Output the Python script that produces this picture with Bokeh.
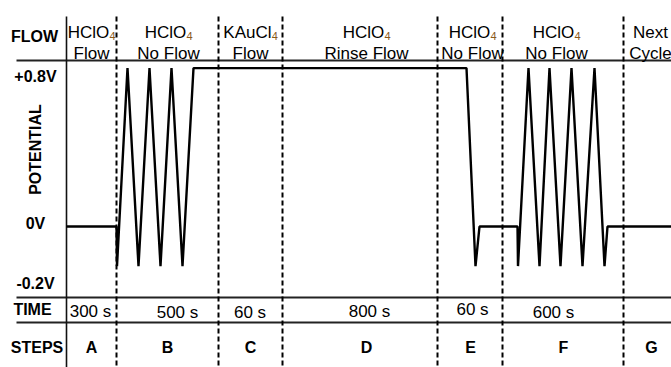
from math import pi

from bokeh.core.properties import value
from bokeh.embed import file_html
from bokeh.models import Range1d
from bokeh.plotting import figure
from bokeh.resources import INLINE

# ---- protocol data -------------------------------------------------------
steps = ["A", "B", "C", "D", "E", "F", "G"]
durations = ["300 s", "500 s", "60 s", "800 s", "60 s", "600 s"]
flow_species = ["HClO", "HClO", "KAuCl", "HClO", "HClO", "HClO", "Next"]
flow_subscript = ["4", "4", "4", "4", "4", "4", ""]
flow_mode = ["Flow", "No Flow", "Flow", "Rinse Flow", "No Flow", "No Flow", "Cycle"]

potential_ticks = [0.8, 0.0, -0.2]
potential_tick_labels = ["+0.8V", "0V", "-0.2V"]

# applied potential (V) along the schematic step axis
wave_pos = [66, 116, 116.5, 127, 138, 149, 160, 171, 182, 193,
            466, 475, 479, 517, 517.5, 528, 539, 549, 560, 571, 582, 594,
            604, 607, 671]
wave_v = [0.0, 0.0, -0.2, 0.8, -0.2, 0.8, -0.2, 0.8, -0.2, 0.8,
          0.8, -0.2, 0.0, 0.0, -0.2, 0.8, -0.2, 0.8, -0.2, 0.8, -0.2, 0.8,
          -0.2, 0.0, 0.0]

# ---- layout --------------------------------------------------------------
W, H = 671, 367
FONT = value("Liberation Sans")

label_col_edge = 66
step_edges = [116, 218, 282, 437, 502, 623]
row_rules = [60, 297, 322]
flow_x = [91, 168, 250, 366, 472, 556, 650]
step_x = [91, 167, 250, 366, 470, 563, 651]
time_x = [90, 177, 249.5, 369, 472, 553]
time_y = [311, 312, 312, 310.5, 309, 312]
tick_label_y = [76, 222.5, 282.5]

# potential axis: 1 V spans 198 px, 0 V sits 226 px from the top
V0_PX, PX_PER_V = 226.0, 198.0

# Arial / Liberation Sans advance widths (per 1000 em)
ADV = {"H": 722, "C": 722, "l": 222, "O": 778, "K": 667, "A": 667,
       "u": 556, "4": 556, "N": 722, "e": 556, "x": 500, "t": 278}


def text_width(s, size):
    return sum(ADV.get(ch, 556) for ch in s) * size / 1000.0


p = figure(width=W, height=H, x_range=Range1d(0, W), y_range=Range1d(H, 0),
           x_axis_type=None, y_axis_type=None, output_backend="svg",
           toolbar_location=None, min_border=0)
p.extra_y_ranges = {"volts": Range1d(start=(V0_PX - H) / PX_PER_V,
                                     end=V0_PX / PX_PER_V)}
p.outline_line_color = None
p.background_fill_color = "white"
p.border_fill_color = "white"

# table rules
p.segment(x0=[16] * len(row_rules), x1=[W] * len(row_rules),
          y0=row_rules, y1=row_rules, line_color="#222222", line_width=1.8)
p.segment(x0=[label_col_edge], x1=[label_col_edge], y0=[16], y1=[H],
          line_color="#111111", line_width=1.6)
p.segment(x0=step_edges, x1=step_edges, y0=[16] * len(step_edges),
          y1=[H] * len(step_edges), line_color="black", line_width=2,
          line_dash="5 3")

# potential waveform
p.line(x=wave_pos, y=wave_v, y_range_name="volts", line_color="black",
       line_width=2.4)

# row titles
p.text(x=[34, 32, 36.5], y=[36, 309, 346.5], text=["FLOW", "TIME", "STEPS"],
       text_font=FONT, text_font_size="16px", text_font_style="bold",
       text_align="center", text_baseline="middle", text_color="black")
p.text(x=[35], y=[149], text=["POTENTIAL"], angle=pi / 2,
       text_font=FONT, text_font_size="16px", text_font_style="bold",
       text_align="center", text_baseline="middle", text_color="black")
p.text(x=[35] * 3, y=tick_label_y, text=potential_tick_labels,
       text_font=FONT, text_font_size="16px", text_font_style="bold",
       text_align="center", text_baseline="middle", text_color="black")

# flow headers: species with subscript on the first line, mode below
MAIN, SUB = 17, 11
main_x, sub_x = [], []
for cx, sp, sb in zip(flow_x, flow_species, flow_subscript):
    w_main = text_width(sp, MAIN)
    w_sub = text_width(sb, SUB) if sb else 0.0
    left = cx - (w_main + w_sub) / 2.0
    main_x.append(left)
    sub_x.append(left + w_main + 0.3)
p.text(x=main_x, y=[32] * len(flow_species), text=flow_species,
       text_font=FONT, text_font_size=f"{MAIN}px", text_align="left",
       text_baseline="alphabetic", text_color="black")
p.text(x=sub_x, y=[35] * len(flow_subscript), text=flow_subscript,
       text_font=FONT, text_font_size=f"{SUB}px", text_align="left",
       text_baseline="alphabetic", text_color="#8a5a1a")
p.text(x=flow_x, y=[52.5] * len(flow_mode), text=flow_mode,
       text_font=FONT, text_font_size=f"{MAIN}px", text_align="center",
       text_baseline="alphabetic", text_color="black")

# durations and step letters
p.text(x=time_x, y=time_y, text=durations,
       text_font=FONT, text_font_size="17px", text_align="center",
       text_baseline="middle", text_color="black")
p.text(x=step_x, y=[346.5] * len(steps), text=steps,
       text_font=FONT, text_font_size="16px", text_font_style="bold",
       text_align="center", text_baseline="middle", text_color="black")

open("out.html", "w").write(file_html(p, INLINE))
